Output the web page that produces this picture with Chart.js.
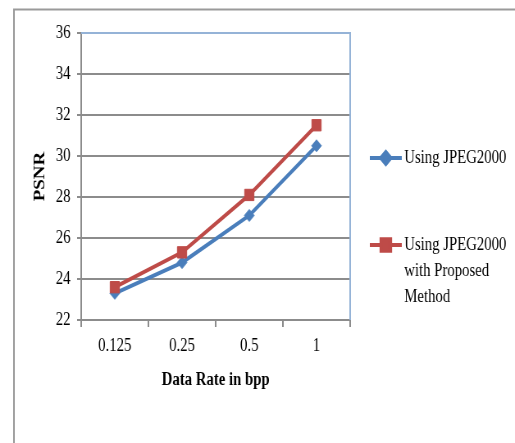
<!DOCTYPE html>
<html>
<head>
<meta charset="utf-8">
<script src="https://cdn.jsdelivr.net/npm/chart.js@4/dist/chart.umd.min.js"></script>
<style>
  html, body { margin: 0; padding: 0; background: #fff; overflow: hidden; }
  /* Times-style condensed lettering: the chart is laid out wide and squeezed horizontally */
  #wrap { width: 515px; height: 443px; overflow: hidden; }
  #c { display: block; transform: scaleX(0.82); transform-origin: 0 0; }
</style>
</head>
<body>
<div id="wrap"><canvas id="c" width="628" height="443"></canvas></div>
<script>
// Data rates (bpp) on the x axis
const rates = ['0.125', '0.25', '0.5', '1'];
// PSNR (dB) for each coder
const psnrJpeg2000 = [23.3, 24.8, 27.1, 30.5];
const psnrProposed = [23.6, 25.3, 28.1, 31.5];
// Series names as shown in the key (one entry per text line)
const nameJpeg2000 = ['Using JPEG2000'];
const nameProposed = ['Using JPEG2000', 'with Proposed', 'Method'];
// Y axis range
const yMin = 22, yMax = 36, yStep = 2;

const BLUE = '#4a7ebb';
const RED = '#be4b48';
const SERIF = '"Liberation Serif", "Times New Roman", serif';

// Grey frame around the whole figure (top and left edges)
const framePlugin = {
  id: 'frame',
  beforeDraw(chart) {
    const ctx = chart.ctx;
    ctx.save();
    ctx.strokeStyle = '#9a9a9a';
    ctx.lineWidth = 2;
    ctx.beginPath();
    ctx.moveTo(17, 443);
    ctx.lineTo(17, 9.5);
    ctx.lineTo(chart.width, 9.5);
    ctx.stroke();
    ctx.restore();
  }
};

// Light blue top and right edges of the plot area
const plotEdgePlugin = {
  id: 'plotEdge',
  beforeDatasetsDraw(chart) {
    const {ctx, chartArea: a} = chart;
    ctx.save();
    ctx.strokeStyle = '#95b3d7';
    ctx.lineWidth = 2;
    ctx.beginPath();
    ctx.moveTo(a.left, a.top);
    ctx.lineTo(a.right, a.top);
    ctx.lineTo(a.right, a.bottom);
    ctx.stroke();
    ctx.restore();
  }
};

// Key on the right: a line sample with its marker, then the (multi-line) name
const keyPlugin = {
  id: 'key',
  afterDraw(chart) {
    const ctx = chart.ctx;
    const rows = [158, 245];
    const lineH = 26;
    const x0 = 451, x1 = 490, tx = 493;
    const items = [chart.data.datasets[0], chart.data.datasets[1]];
    ctx.save();
    items.forEach((ds, i) => {
      const y = rows[i];
      ctx.strokeStyle = ds.borderColor;
      ctx.lineWidth = 4;
      ctx.beginPath();
      ctx.moveTo(x0, y);
      ctx.lineTo(x1, y);
      ctx.stroke();
      ctx.fillStyle = ds.pointBackgroundColor;
      ctx.strokeStyle = ds.pointBorderColor;
      Chart.helpers.drawPoint(ctx, {
        pointStyle: ds.pointStyle,
        radius: ds.pointRadius,
        rotation: 0,
        borderWidth: 1
      }, (x0 + x1) / 2, y);
      ctx.fillStyle = '#000';
      ctx.font = '18px ' + SERIF;
      ctx.textBaseline = 'middle';
      ctx.textAlign = 'left';
      ds.keyLines.forEach((t, k) => ctx.fillText(t, tx, y + k * lineH));
    });
    ctx.restore();
  }
};

new Chart(document.getElementById('c'), {
  type: 'line',
  data: {
    labels: rates,
    datasets: [
      {
        label: nameJpeg2000.join(' '),
        keyLines: nameJpeg2000,
        data: psnrJpeg2000,
        borderColor: BLUE,
        backgroundColor: BLUE,
        pointBackgroundColor: BLUE,
        pointBorderColor: BLUE,
        borderWidth: 4,
        pointStyle: 'rectRot',
        pointRadius: 6,
        pointBorderWidth: 1,
        tension: 0,
        order: 1
      },
      {
        label: nameProposed.join(' '),
        keyLines: nameProposed,
        data: psnrProposed,
        borderColor: RED,
        backgroundColor: RED,
        pointBackgroundColor: RED,
        pointBorderColor: RED,
        borderWidth: 4,
        pointStyle: 'rect',
        pointRadius: 8,
        pointBorderWidth: 1,
        tension: 0,
        order: 0
      }
    ]
  },
  options: {
    responsive: false,
    animation: false,
    devicePixelRatio: 1,
    layout: { padding: { left: 0, top: 33, right: 201, bottom: 0 } },
    plugins: {
      legend: { display: false },
      tooltip: { enabled: false }
    },
    scales: {
      x: {
        offset: true,
        grid: {
          offset: true,
          drawOnChartArea: false,
          drawTicks: true,
          tickLength: 7,
          color: '#8c8c8c',
          lineWidth: 2
        },
        border: { color: '#8c8c8c', width: 2 },
        ticks: {
          color: '#000',
          padding: 8,
          font: { family: SERIF, size: 18 }
        },
        title: {
          display: true,
          text: 'Data Rate in bpp',
          color: '#000',
          font: { family: SERIF, size: 18, weight: 'bold' },
          padding: { top: 0, bottom: 52 }
        },
        afterFit(scale) { scale.height = 123; }
      },
      y: {
        min: yMin,
        max: yMax,
        grid: {
          color: '#8c8c8c',
          lineWidth: 2,
          tickLength: 5
        },
        border: { color: '#8c8c8c', width: 2 },
        ticks: {
          stepSize: yStep,
          color: '#000',
          padding: 8,
          font: { family: SERIF, size: 18 }
        },
        title: {
          display: true,
          text: 'PSNR',
          color: '#000',
          font: { family: SERIF, size: 19, weight: 'bold' },
          padding: { top: 38, bottom: 0 }
        },
        afterFit(scale) { scale.width = 99; }
      }
    }
  },
  plugins: [framePlugin, plotEdgePlugin, keyPlugin]
});
</script>
</body>
</html>
